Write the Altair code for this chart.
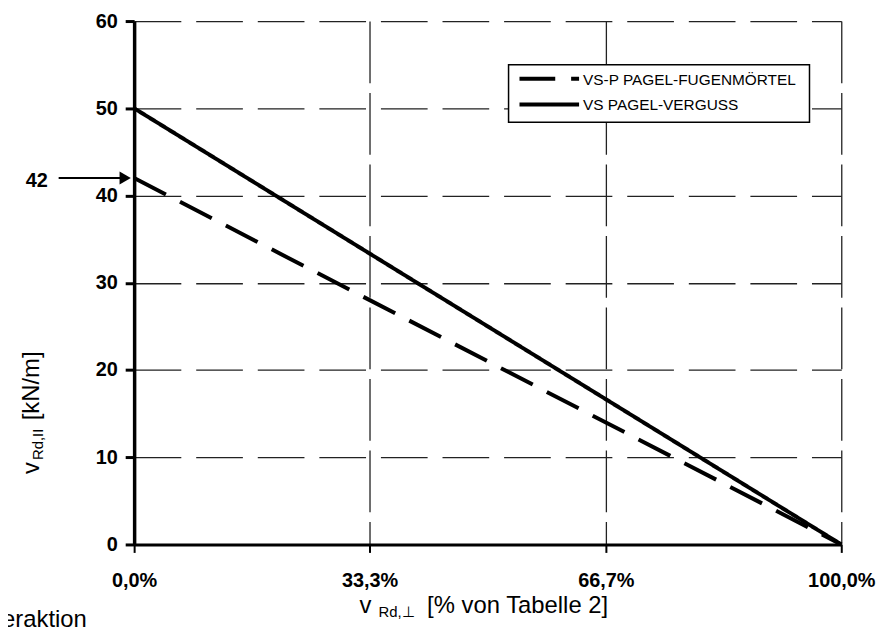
import altair as alt
import pandas as pd

# ---- data ----
series_names = ["VS-P PAGEL-FUGENMÖRTEL", "VS PAGEL-VERGUSS"]
x_values = [0, 100]
fugen_values = [42, 0]
verguss_values = [50, 0]
x_ticks = [0, 33.3, 66.7, 100]
x_tick_labels = ["0,0%", "33,3%", "66,7%", "100,0%"]
y_ticks = [0, 10, 20, 30, 40, 50, 60]
arrow_value = [42]
arrow_label = ["42"]

df = pd.DataFrame({
    "x": x_values + x_values,
    "y": fugen_values + verguss_values,
    "s": [series_names[0]] * len(x_values) + [series_names[1]] * len(x_values),
})
arrow_df = pd.DataFrame({"y": arrow_value, "t": arrow_label})

label_expr = ""
for v, l in zip(x_ticks, x_tick_labels):
    label_expr += f"datum.value == {v} ? '{l}' : "
label_expr += "''"

FONT = "Liberation Sans"
xscale = alt.Scale(domain=[0, 100], nice=False, zero=False)
yscale = alt.Scale(domain=[0, 60], nice=False)
dash_scale = alt.Scale(domain=series_names, range=[[36, 16], [1, 0]])

lines = alt.Chart(df).mark_line(color="black", strokeWidth=4, strokeCap="butt").encode(
    x=alt.X("x:Q", scale=xscale, axis=alt.Axis(
        values=x_ticks, labelExpr=label_expr, title=None,
        grid=True, gridDash=[62, 10], gridColor="#222", gridWidth=1.3,
        domainColor="black", domainWidth=3, tickColor="black", tickWidth=2, tickSize=8,
        labelFont=FONT, labelFontSize=20, labelFontWeight="bold", labelColor="black",
        labelPadding=18, labelFlush=False)),
    y=alt.Y("y:Q", scale=yscale, axis=alt.Axis(
        values=y_ticks, title=None,
        grid=True, gridDash=[47, 15], gridColor="#222", gridWidth=1.3,
        domainColor="black", domainWidth=3.5, tickColor="black", tickWidth=3, tickSize=9,
        labelFont=FONT, labelFontSize=20, labelFontWeight="bold", labelColor="black",
        labelPadding=8, labelFlush=False)),
    strokeDash=alt.StrokeDash("s:N", scale=dash_scale, legend=None),
)

# legend box (drawn by hand so the rows stay compact)
one = pd.DataFrame({"k": [0]})
legend_box = alt.Chart(one).mark_rect(fill="white", stroke="black", strokeWidth=1.5).encode(
    x=alt.value(377), x2=alt.value(680), y=alt.value(44), y2=alt.value(102))
legend_rows = []
for i, name in enumerate(series_names):
    row = pd.DataFrame({"s": [name]})
    ypix = 58 + 26 * i
    legend_rows.append(alt.Chart(row).mark_rule(color="black", strokeWidth=4, strokeCap="butt").encode(
        x=alt.value(388), x2=alt.value(448), y=alt.value(ypix),
        strokeDash=alt.StrokeDash("s:N", scale=alt.Scale(domain=series_names, range=[[32, 18], [1, 0]]),
                                  legend=None)))
    legend_rows.append(alt.Chart(row).mark_text(font=FONT, fontSize=15.5, color="black",
                                                align="left", baseline="middle", dy=1).encode(
        x=alt.value(452), y=alt.value(ypix), text="s:N"))

arrow_rule = alt.Chart(arrow_df).mark_rule(color="black", strokeWidth=2).encode(
    y=alt.Y("y:Q", scale=yscale), x=alt.value(-76), x2=alt.value(-10))
arrow_head = alt.Chart(arrow_df).mark_point(shape="triangle-right", filled=True, color="black",
                                            opacity=1, size=170).encode(
    y=alt.Y("y:Q", scale=yscale), x=alt.value(-9))
arrow_text = alt.Chart(arrow_df).mark_text(font=FONT, fontSize=20, fontWeight="bold", color="black",
                                           align="center", baseline="middle", dy=3).encode(
    y=alt.Y("y:Q", scale=yscale), x=alt.value(-98), text="t:N")


def label(text, x, y, size, angle=0, weight="normal"):
    return alt.Chart(pd.DataFrame({"t": [text]})).mark_text(
        font=FONT, fontSize=size, fontWeight=weight, color="black", angle=angle,
        align="left", baseline="alphabetic").encode(
        x=alt.value(x), y=alt.value(y), text="t:N")


texts = [
    label("v", -96, 456, 24, angle=270),
    label("Rd,II", -92, 442, 15, angle=270),
    label("[kN/m]", -96, 402, 24, angle=270),
    label("v", 227, 596, 24),
    label("Rd,⊥", 246, 600, 15),
    label("[% von Tabelle 2]", 295, 596, 24),
    label("eraktion", -133, 610, 24),
]

chart = alt.layer(lines, legend_box, *legend_rows, arrow_rule, arrow_head, arrow_text, *texts).properties(
    width=712, height=527,
    padding={"left": 127, "top": 11, "right": 40, "bottom": 86},
    autosize=alt.AutoSizeParams(type="none"),
    background="white",
).configure_view(strokeWidth=0)

chart.save("out.html", embed_options={"renderer": "svg", "actions": False})
